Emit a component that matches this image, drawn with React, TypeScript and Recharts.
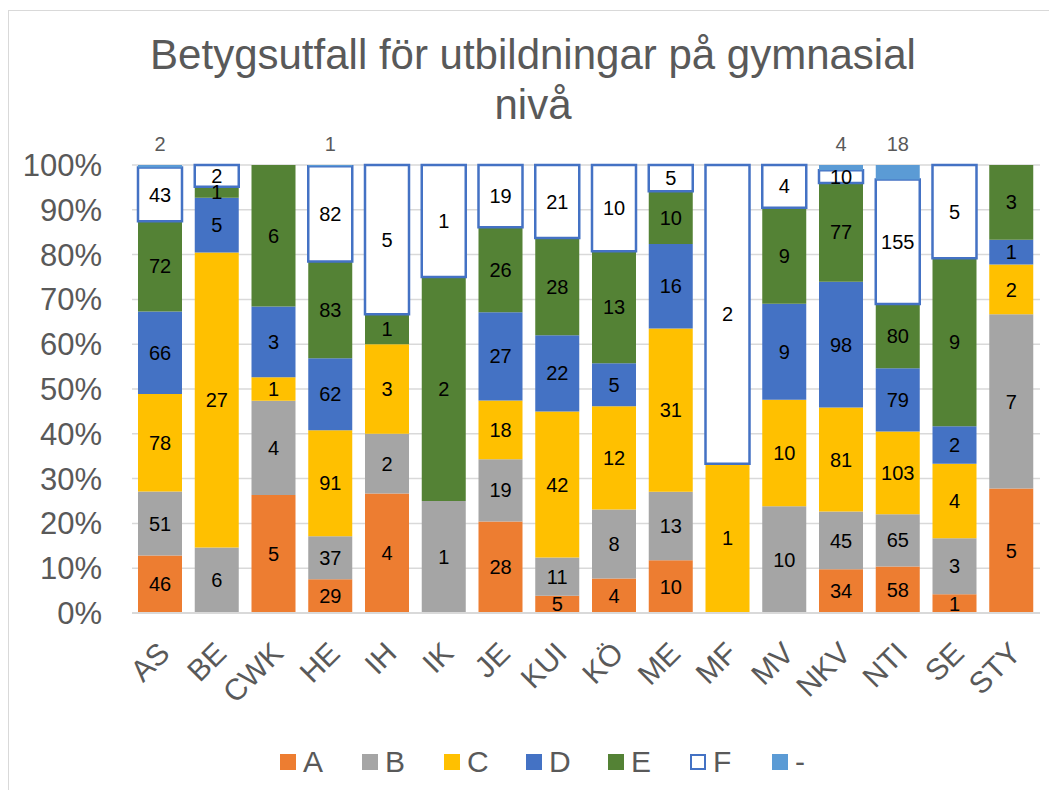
import React from 'react';
import { BarChart, Bar, XAxis, YAxis, CartesianGrid, Legend, LabelList } from 'recharts';

const categories = ['AS', 'BE', 'CWK', 'HE', 'IH', 'IK', 'JE', 'KUI', 'KÖ', 'ME', 'MF', 'MV', 'NKV', 'NTI', 'SE', 'STY'];
const gradeA = [46, 0, 5, 29, 4, 0, 28, 5, 4, 10, 0, 0, 34, 58, 1, 5];
const gradeB = [51, 6, 4, 37, 2, 1, 19, 11, 8, 13, 0, 10, 45, 65, 3, 7];
const gradeC = [78, 27, 1, 91, 3, 0, 18, 42, 12, 31, 1, 10, 81, 103, 4, 2];
const gradeD = [66, 5, 3, 62, 0, 0, 27, 22, 5, 16, 0, 9, 98, 79, 2, 1];
const gradeE = [72, 1, 6, 83, 1, 2, 26, 28, 13, 10, 0, 9, 77, 80, 9, 3];
const gradeF = [43, 2, 0, 82, 5, 1, 19, 21, 10, 5, 2, 4, 10, 155, 5, 0];
const gradeDash = [2, 0, 0, 1, 0, 0, 0, 0, 0, 0, 0, 0, 4, 18, 0, 0];
const yTicks = [0, 0.1, 0.2, 0.3, 0.4, 0.5, 0.6, 0.7, 0.8, 0.9, 1];

const FONT = '"Liberation Sans", Arial, sans-serif';
const GREY = '#595959';

const series = [
  { key: 'A', fill: '#ED7D31', stroke: 'none' },
  { key: 'B', fill: '#A5A5A5', stroke: 'none' },
  { key: 'C', fill: '#FFC000', stroke: 'none' },
  { key: 'D', fill: '#4472C4', stroke: 'none' },
  { key: 'E', fill: '#548235', stroke: 'none' },
  { key: 'F', fill: '#FFFFFF', stroke: '#4472C4' },
  { key: '-', fill: '#5B9BD5', stroke: 'none' },
];

const data = categories.map((name, i) => ({
  name,
  A: gradeA[i],
  B: gradeB[i],
  C: gradeC[i],
  D: gradeD[i],
  E: gradeE[i],
  F: gradeF[i],
  '-': gradeDash[i],
}));

// labels for the "-" series sit above the bar, like Excel pushes them out
const DashLabel = (props: any) => {
  const { viewBox, value } = props;
  if (!value) return null;
  return (
    <text
      x={viewBox.x + viewBox.width / 2}
      y={viewBox.y - 14}
      textAnchor="middle"
      fontSize={20}
      fill={GREY}
      fontFamily={FONT}
    >
      {value}
    </text>
  );
};

const XTick = (props: any) => {
  const { x, y, payload } = props;
  return (
    <g transform={`translate(${x + 11},${y + 34}) rotate(-45)`}>
      <text textAnchor="end" fontSize={30} fill={GREY} fontFamily={FONT}>
        {payload.value}
      </text>
    </g>
  );
};

const LegendBox = () => (
  <div style={{ display: 'flex', paddingLeft: 271, paddingTop: 38, fontFamily: FONT }}>
    {series.map((s) => (
      <div key={s.key} style={{ width: 82, display: 'flex', alignItems: 'center' }}>
        <span
          style={{
            display: 'inline-block',
            width: 16,
            height: 16,
            boxSizing: 'border-box',
            background: s.fill,
            border: s.stroke === 'none' ? 'none' : `2px solid ${s.stroke}`,
            marginRight: 7,
          }}
        />
        <span style={{ fontSize: 30, color: GREY, lineHeight: '22px' }}>{s.key}</span>
      </div>
    ))}
  </div>
);

export default function App() {
  return (
    <div
      style={{
        position: 'relative',
        top: 2,
        width: 1048,
        height: 781,
        borderTop: '1px solid #d9d9d9',
        borderLeft: '1px solid #d9d9d9',
        fontFamily: FONT,
      }}
    >
      <div
        style={{
          position: 'absolute',
          top: 19,
          left: 0,
          width: 1048,
          textAlign: 'center',
          fontSize: 42,
          lineHeight: '50px',
          color: GREY,
        }}
      >
        Betygsutfall för utbildningar på gymnasial
        <br />
        nivå
      </div>
      <BarChart
        width={1048}
        height={780}
        data={data}
        stackOffset="expand"
        margin={{ top: 154, right: 17, left: 0, bottom: 0 }}
        barSize={44}
      >
        <CartesianGrid vertical={false} stroke="#d9d9d9" strokeWidth={1.5} />
        <XAxis
          dataKey="name"
          height={100}
          interval={0}
          tickLine={false}
          axisLine={{ stroke: '#d9d9d9', strokeWidth: 2 }}
          tick={<XTick />}
        />
        <YAxis
          width={123}
          domain={[0, 1]}
          ticks={yTicks}
          tickFormatter={(v: number) => `${Math.round(v * 100)}%`}
          axisLine={false}
          tickLine={false}
          tickSize={0}
          tickMargin={30}
          tick={{ fontSize: 31, fill: GREY, fontFamily: FONT }}
        />
        <Legend verticalAlign="bottom" height={78} content={<LegendBox />} />
        {series.map((s) => (
          <Bar
            key={s.key}
            dataKey={s.key}
            stackId="g"
            fill={s.fill}
            stroke={s.stroke}
            strokeWidth={s.stroke === 'none' ? 0 : 2.5}
            isAnimationActive={false}
          >
            {s.key === '-' ? (
              <LabelList dataKey={s.key} content={<DashLabel />} />
            ) : (
              <LabelList
                dataKey={s.key}
                position="center"
                fontSize={20}
                fill="#000"
                fontFamily={FONT}
                formatter={(v: any) => (v ? v : '')}
              />
            )}
          </Bar>
        ))}
      </BarChart>
    </div>
  );
}
